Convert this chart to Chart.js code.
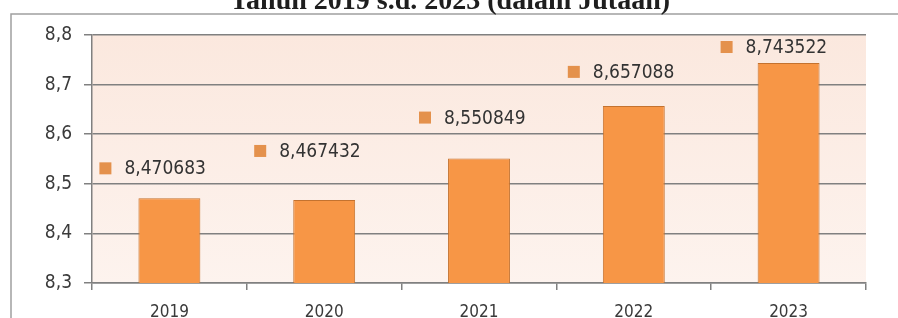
<!DOCTYPE html>
<html>
<head>
<meta charset="utf-8">
<script src="https://cdn.jsdelivr.net/npm/chart.js@4"></script>
<style>
  html, body { margin: 0; padding: 0; background: #fff; }
  #wrap { width: 898px; height: 318px; position: relative; }
</style>
</head>
<body>
<div id="wrap"><canvas id="chart"></canvas></div>
<script>
// data
const years = ["2019", "2020", "2021", "2022", "2023"];
const penduduk = [8.470683, 8.467432, 8.550849, 8.657088, 8.743522];
const yTicks = [8.3, 8.4, 8.5, 8.6, 8.7, 8.8];
const titleText = "Tahun 2019 s.d. 2023 (dalam Jutaan)";

// where each data label sits, relative to its bar top (px)
const labelShift = [[-64, -30], [-64, -49], [-54, -41], [-60, -34], [-62, -16]];

const sansFamily = '"DejaVu Sans Condensed", "DejaVu Sans", sans-serif';

function fmt(v, digits) {
    return v.toFixed(digits).replace(".", ",");
}

// peach plot background, outer frame and title
const frame = {
    id: "frame",
    beforeDraw(chart) {
        const { ctx, chartArea: a } = chart;
        ctx.save();
        const g = ctx.createLinearGradient(0, a.top, 0, a.bottom);
        g.addColorStop(0, "#fbe8de");
        g.addColorStop(1, "#fdf3ee");
        ctx.fillStyle = g;
        ctx.fillRect(a.left, a.top, a.right - a.left, a.bottom - a.top);

        ctx.strokeStyle = "#a0a0a0";
        ctx.lineWidth = 1.5;
        ctx.beginPath();
        ctx.moveTo(11, 330);
        ctx.lineTo(11, 14);
        ctx.lineTo(900, 14);
        ctx.stroke();

        ctx.fillStyle = "#1e1e1e";
        ctx.font = 'bold 28px "Liberation Serif", "DejaVu Serif", serif';
        ctx.textAlign = "center";
        ctx.textBaseline = "alphabetic";
        ctx.fillText(titleText, 450, 9);
        ctx.restore();
    },
};

// square marker + value next to each bar
const valueLabels = {
    id: "valueLabels",
    afterDatasetsDraw(chart) {
        const { ctx } = chart;
        const bars = chart.getDatasetMeta(0).data;
        ctx.save();
        ctx.font = "19px " + sansFamily;
        ctx.textBaseline = "middle";
        ctx.textAlign = "left";
        bars.forEach((bar, i) => {
            const cx = bar.x + labelShift[i][0];
            const cy = bar.y + labelShift[i][1];
            ctx.fillStyle = "#e4914c";
            ctx.fillRect(cx - 6, cy - 6, 12, 12);
            ctx.fillStyle = "#333";
            ctx.fillText(fmt(penduduk[i], 6), cx + 19, cy + 1);
        });
        ctx.restore();
    },
};

new Chart(document.getElementById("chart"), {
    type: "bar",
    data: {
        labels: years,
        datasets: [
            {
                data: penduduk,
                backgroundColor: "#f79646",
                borderColor: "#c4722f",
                borderWidth: 1,
                barPercentage: 0.4,
                categoryPercentage: 1,
            },
        ],
    },
    options: {
        responsive: true,
        maintainAspectRatio: false,
        animation: false,
        layout: { padding: { left: 0, right: 32, top: 35, bottom: 0 } },
        plugins: {
            legend: { display: false },
            tooltip: { enabled: false },
        },
        scales: {
            x: {
                offset: true,
                grid: {
                    offset: true,
                    drawOnChartArea: false,
                    drawTicks: true,
                    tickLength: 7,
                    color: "#808080",
                    lineWidth: 1.5,
                },
                border: { color: "#808080", width: 1.5 },
                ticks: {
                    color: "#3a3a3a",
                    font: { family: sansFamily, size: 17 },
                    padding: 12,
                },
                afterFit(scale) { scale.height = 35; },
            },
            y: {
                min: yTicks[0],
                max: yTicks[yTicks.length - 1],
                afterBuildTicks(scale) {
                    scale.ticks = yTicks.map((v) => ({ value: v }));
                },
                grid: {
                    color: "#808080",
                    lineWidth: 1.5,
                    tickLength: 8,
                },
                border: { color: "#808080", width: 1.5 },
                ticks: {
                    color: "#3a3a3a",
                    font: { family: sansFamily, size: 19 },
                    padding: 12,
                    callback: (v) => fmt(v, 1),
                },
                afterFit(scale) { scale.width = 92; },
            },
        },
    },
    plugins: [frame, valueLabels],
});
</script>
</body>
</html>
